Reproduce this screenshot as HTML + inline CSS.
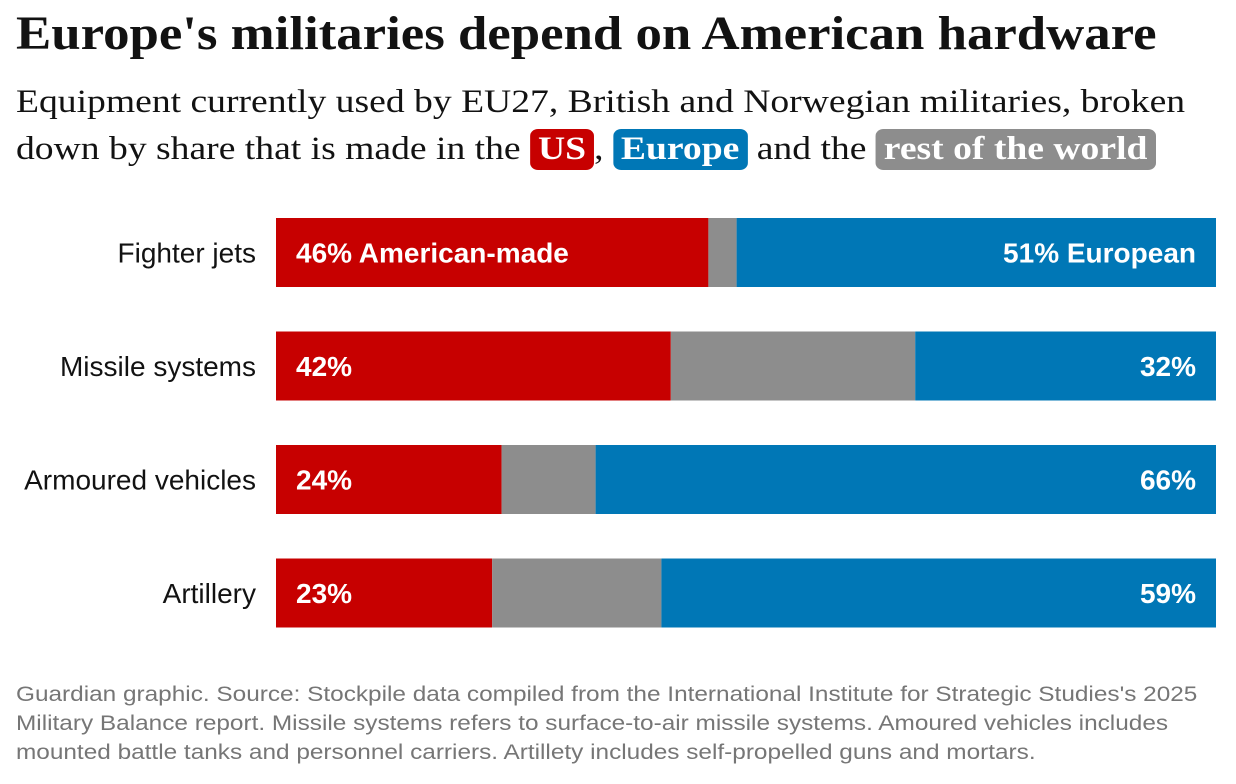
<!DOCTYPE html>
<html><head><meta charset="utf-8">
<style>
body{margin:0;width:1236px;height:784px;background:#fff;overflow:hidden;position:relative;font-family:"Liberation Sans",sans-serif}
#title{position:absolute;left:16px;top:6px;font-family:"Liberation Serif",serif;font-weight:bold;font-size:48px;color:#121212;white-space:nowrap;transform:scaleX(1.10);transform-origin:left top}
#sub{position:absolute;left:16px;top:79px;font-family:"Liberation Serif",serif;font-size:33px;line-height:47px;color:#121212;white-space:nowrap;transform:scaleX(1.14);transform-origin:left top}
.pill{color:#fff;font-weight:bold;border-radius:7px;padding:2px 7px 3px}
#foot{position:absolute;left:16px;top:680px;font-size:21px;line-height:29px;color:#767676;white-space:nowrap;transform:scaleX(1.16);transform-origin:left top}
svg{position:absolute;left:0;top:0}
</style></head><body>
<div id="title">Europe's militaries depend on American hardware</div>
<div id="sub">Equipment currently used by EU27, British and Norwegian militaries, broken<br>down by share that is made in the <span class="pill" style="background:#c70000">US</span>, <span class="pill" style="background:#0077b6">Europe</span> and the <span class="pill" style="background:#8d8d8d">rest of the world</span></div>
<svg id="chart" width="1236" height="784"></svg>
<div id="foot">Guardian graphic. Source: Stockpile data compiled from the International Institute for Strategic Studies's 2025<br>Military Balance report. Missile systems refers to surface-to-air missile systems. Amoured vehicles includes<br>mounted battle tanks and personnel carriers. Artillety includes self-propelled guns and mortars.</div>
<script>
const categories=["Fighter jets","Missile systems","Armoured vehicles","Artillery"];
const usShare=[46,42,24,23];
const euShare=[51,32,66,59];
const usLabels=["46% American-made","42%","24%","23%"];
const euLabels=["51% European","32%","66%","59%"];
const svg=document.getElementById('chart');const NS="http://www.w3.org/2000/svg";
const x0=276,W=940;const xs=v=>x0+v/100*W;
const y0=218,step=113.5,h=69;
function mk(t,a){const e=document.createElementNS(NS,t);for(const k in a)e.setAttribute(k,a[k]);svg.appendChild(e);return e;}
categories.forEach((c,i)=>{
 const y=y0+i*step;const us=usShare[i],eu=euShare[i];
 let r=mk('rect',{x:xs(0),y:y,width:xs(us)-xs(0),height:h,fill:'#c70000'});
 
 
 r=mk('rect',{x:xs(us),y:y,width:xs(100-eu)-xs(us),height:h,fill:'#8d8d8d'});
 
 
 r=mk('rect',{x:xs(100-eu),y:y,width:xs(100)-xs(100-eu),height:h,fill:'#0077b6'});
 
 
 let t=mk('text',{x:256,y:y+h/2+10,'text-anchor':'end','font-size':28,fill:'#121212'});t.textContent=c;
 
 
 t=mk('text',{x:xs(0)+20,y:y+h/2+10,'font-size':28,'font-weight':'bold',fill:'#fff'});t.textContent=usLabels[i];
 
 
 t=mk('text',{x:xs(100)-20,y:y+h/2+10,'text-anchor':'end','font-size':28,'font-weight':'bold',fill:'#fff'});t.textContent=euLabels[i];
 
 
});
</script>
</body></html>
